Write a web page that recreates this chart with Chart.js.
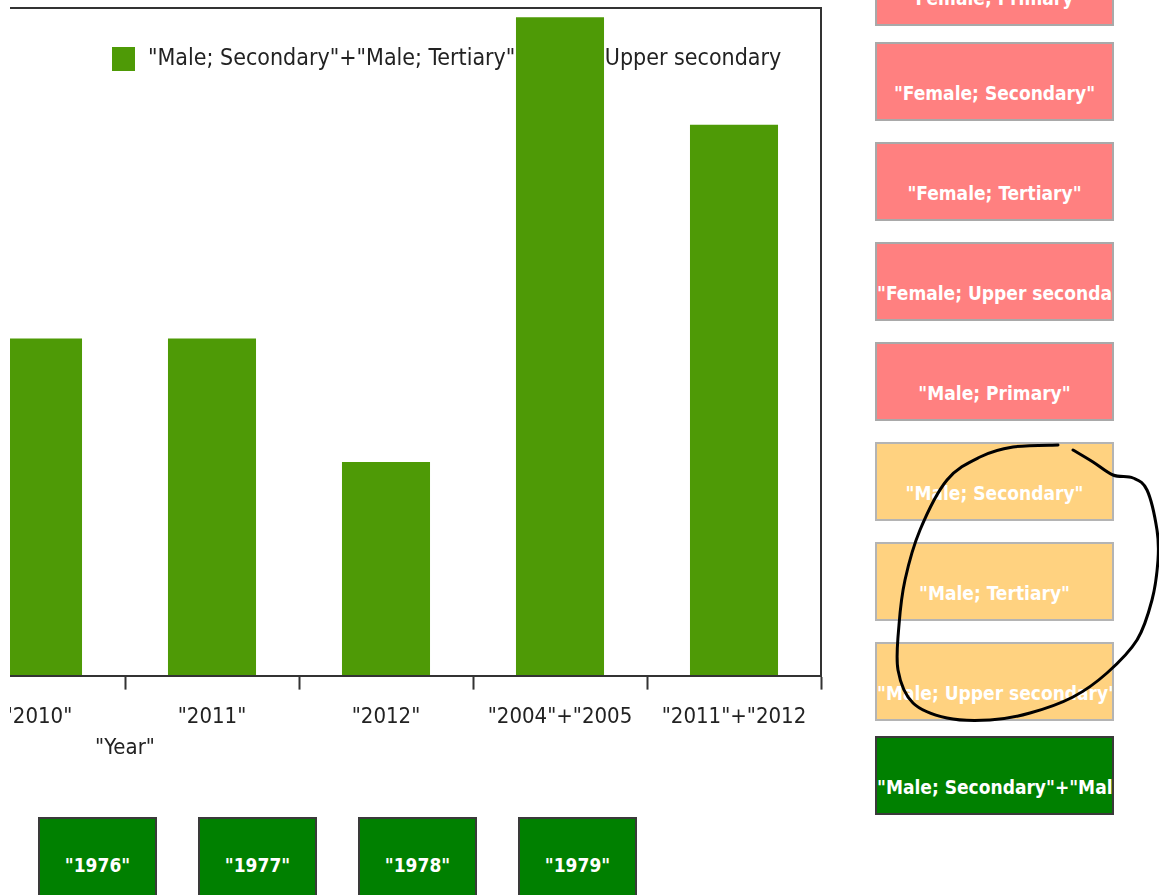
<!DOCTYPE html>
<html>
<head>
<meta charset="utf-8">
<script src="https://cdn.jsdelivr.net/npm/chart.js@4.4.1/dist/chart.umd.min.js"></script>
<style>
  body { margin: 0; width: 1159px; height: 895px; overflow: hidden; background: #fff;
         font-family: "DejaVu Sans Condensed", "DejaVu Sans", sans-serif; }
  #clip { position: absolute; left: 10px; top: 0; width: 830px; height: 780px; overflow: hidden; }
  #wrap { position: absolute; left: -59px; top: 0; width: 874px; height: 780px; }
  #yearTitle { position: absolute; left: 75px; width: 100px; top: 734px; text-align: center;
               font-size: 22px; color: #222; }
  .btn { position: absolute; box-sizing: border-box; overflow: hidden; white-space: nowrap;
         text-align: center; color: #fff; font-size: 19px; font-weight: bold; }
  .pink { background: #ff8080; border: 2px solid #a9a9a9; }
  .orange { background: #ffd280; border: 2px solid #b4b4b4; }
  .green { background: #008000; border: 2px solid #3a3a3a; }
  #circle { position: absolute; left: 0; top: 0; pointer-events: none; }
</style>
</head>
<body>
<div id="clip"><div id="wrap"><canvas id="barChartCanvas"></canvas></div></div>
<div id="yearTitle">"Year"</div>
<div id="buttons"></div>
<svg id="circle" width="1159" height="895"><path id="circlePath" fill="none" stroke="#000" stroke-width="3" stroke-linecap="round"/></svg>
<script>
let years = ['"2010"', '"2011"', '"2012"', '"2004"+"2005', '"2011"+"2012'];
let maleSum = [50.5, 50.5, 32, 98.6, 82.5];
let seriesName = '"Male; Secondary"+"Male; Tertiary"+"Male; Upper secondary';
let seriesColor = '#4e9a06';

let measureButtons = ['"Female; Primary"', '"Female; Secondary"', '"Female; Tertiary"', '"Female; Upper secondary"',
    '"Male; Primary"', '"Male; Secondary"', '"Male; Tertiary"', '"Male; Upper secondary"'];
let measureColors = ['pink', 'pink', 'pink', 'pink', 'pink', 'orange', 'orange', 'orange'];
let sumButton = '"Male; Secondary"+"Male; Tertiary"+"Male; Upper secondary"';
let yearButtons = ['"1976"', '"1977"', '"1978"', '"1979"'];

let chartFont = '"DejaVu Sans Condensed", "DejaVu Sans", sans-serif';

// legend drawn inside the plot, before the bars, so the bars cover it
let legendUnderBars = {
    id: 'legendUnderBars',
    beforeDatasetsDraw: function (chart) {
        let ds = chart.data.datasets[0];
        let a = chart.chartArea;
        let ctx = chart.ctx;
        let x = a.right - 709, y = a.top + 51;
        ctx.save();
        ctx.fillStyle = ds.backgroundColor;
        ctx.fillRect(x, y - 12, 23, 24);
        ctx.font = '23px ' + chartFont;
        ctx.fillStyle = '#222';
        ctx.textBaseline = 'middle';
        ctx.fillText(ds.label, x + 36, y);
        ctx.restore();
    }
};

let barChartDraw = function () {
    let ctx = document.getElementById('barChartCanvas').getContext('2d');
    window.barChart = new Chart(ctx, {
        type: 'bar',
        data: {
            labels: years,
            datasets: [{
                label: seriesName,
                data: maleSum,
                backgroundColor: seriesColor,
                categoryPercentage: 1,
                barPercentage: 0.506
            }]
        },
        options: {
            responsive: true,
            maintainAspectRatio: false,
            animation: false,
            layout: { padding: { top: 8, right: 4, left: 0, bottom: 36 } },
            plugins: { legend: { display: false }, tooltip: { enabled: false } },
            scales: {
                x: {
                    grid: { offset: true, drawOnChartArea: false, tickLength: 14, tickColor: '#333', tickWidth: 2 },
                    border: { color: '#333', width: 2 },
                    ticks: { color: '#222', padding: 14, maxRotation: 0, autoSkip: false, font: { size: 22, family: chartFont } }
                },
                xTop: {
                    type: 'category',
                    position: 'top',
                    grid: { drawOnChartArea: false, drawTicks: false },
                    border: { color: '#333', width: 2 },
                    ticks: { display: false }
                },
                y: {
                    position: 'right',
                    min: 0,
                    max: 100,
                    grid: { drawOnChartArea: false, drawTicks: false },
                    border: { color: '#333', width: 2 },
                    ticks: { display: false }
                }
            }
        },
        plugins: [legendUnderBars]
    });
};

let makeButton = function (text, cls, left, top, width, height, textTop) {
    let b = document.createElement('div');
    b.className = 'btn ' + cls;
    b.style.left = left + 'px';
    b.style.top = top + 'px';
    b.style.width = width + 'px';
    b.style.height = height + 'px';
    b.style.paddingTop = textTop + 'px';
    b.textContent = text;
    document.getElementById('buttons').appendChild(b);
};

let drawButtons = function () {
    let tops = [-53, 42, 142, 242, 342, 442, 542, 642];
    measureButtons.forEach(function (t, i) {
        makeButton(t, measureColors[i], 875, tops[i], 239, 79, 38);
    });
    makeButton(sumButton, 'green', 875, 736, 239, 79, 38);
    yearButtons.forEach(function (t, i) {
        makeButton(t, 'green', 38 + i * 160, 817, 119, 100, 35);
    });
};

let smoothPath = function (pts) {
    let d = 'M' + pts[0];
    for (let i = 0; i < pts.length - 1; i++) {
        let p0 = pts[i - 1] || pts[i], p1 = pts[i], p2 = pts[i + 1], p3 = pts[i + 2] || p2;
        let c1 = [p1[0] + (p2[0] - p0[0]) / 6, p1[1] + (p2[1] - p0[1]) / 6];
        let c2 = [p2[0] - (p3[0] - p1[0]) / 6, p2[1] - (p3[1] - p1[1]) / 6];
        d += ' C' + c1 + ' ' + c2 + ' ' + p2;
    }
    return d;
};

// hand-drawn mark around the "Male" buttons
let circlePts = [[1058, 445], [1013, 447], [980, 457], [947, 480], [920, 530], [905, 580], [899, 625], [898, 670],
    [913, 703], [947, 718], [990, 720], [1030, 713], [1073, 697], [1107, 673], [1137, 640], [1152, 600],
    [1158, 560], [1157, 530], [1147, 490], [1133, 478], [1113, 475], [1093, 462], [1073, 450]];

barChartDraw();
drawButtons();
document.getElementById('circlePath').setAttribute('d', smoothPath(circlePts));
</script>
</body>
</html>
